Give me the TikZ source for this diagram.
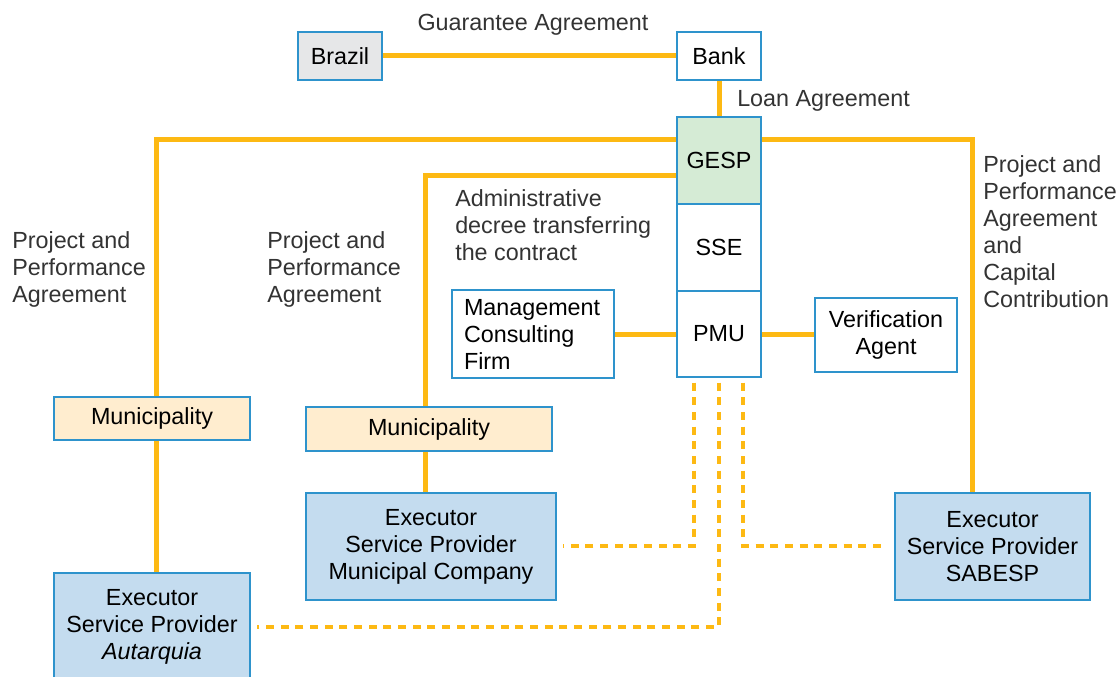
\documentclass[tikz,border=0pt]{standalone}
\usepackage{fontspec}
\setmainfont{Liberation Sans}
\definecolor{lineor}{HTML}{FDB913}
\definecolor{boxbl}{HTML}{2E93CC}
\definecolor{execfill}{HTML}{C4DCEF}
\definecolor{munifill}{HTML}{FFEDCF}
\definecolor{gespfill}{HTML}{D5EBD5}
\definecolor{brfill}{HTML}{E6E7E8}
\definecolor{labcol}{HTML}{333333}
\tikzset{
  box/.style={draw=boxbl, line width=1.1pt, fill=white, inner sep=0pt, align=center, font=\fontsize{17.5}{20.25}\selectfont},
  lab/.style={inner sep=0pt, align=left, text=labcol, font=\fontsize{17.5}{20.25}\selectfont},
  sline/.style={draw=lineor, line width=3.75pt},
  dline/.style={draw=lineor, line width=3.3pt, dash pattern=on 6pt off 5pt}
}
\begin{document}
\begin{tikzpicture}[x=0.75pt,y=-0.75pt]
\clip (0,0) rectangle (1117,677);
\fill[white] (0,0) rectangle (1117,677);
% nodes
\node[box, fill=brfill, minimum width=63pt, minimum height=36pt] (brazil) at (340,56) {Brazil};
\node[box, minimum width=63pt, minimum height=36pt] (bank) at (719,56) {Bank};
\node[box, fill=gespfill, minimum width=63pt, minimum height=65.25pt] (gesp) at (719,160.5) {GESP};
\node[box, minimum width=63pt, minimum height=65.25pt] (sse) at (719,247.5) {SSE};
\node[box, minimum width=63pt, minimum height=64.5pt] (pmu) at (719,334) {PMU};
\node[box, minimum width=121.5pt, minimum height=66pt, align=left, text width=103.5pt] (mcf) at (533,334) {Management\\Consulting\\Firm};
\node[box, minimum width=106.5pt, minimum height=55.5pt] (va) at (886,335) {Verification\\Agent};
\node[box, fill=munifill, minimum width=147pt, minimum height=32.25pt] (muni1) at (152,418.5) {Municipality};
\node[box, fill=munifill, minimum width=184.5pt, minimum height=33pt] (muni2) at (429,429) {Municipality};
\node[box, fill=execfill, minimum width=187.5pt, minimum height=80.25pt] (execmc) at (431,546.5) {Executor\\Service Provider\\Municipal Company};
\node[box, fill=execfill, minimum width=147pt, minimum height=80.25pt] (execa) at (152,626.5) {Executor\\Service Provider\\\textit{Autarquia}};
\node[box, fill=execfill, minimum width=146.25pt, minimum height=80.25pt] (execs) at (992.5,546.5) {Executor\\Service Provider\\SABESP};
% labels
\node[lab, anchor=center] (lguar) at (533,25) {Guarantee Agreement};
\node[lab, anchor=west] (lloan) at (737,101) {Loan Agreement};
\node[lab, anchor=west] (lppa1) at (12,269) {Project and\\Performance\\Agreement};
\node[lab, anchor=west] (lppa2) at (267,269) {Project and\\Performance\\Agreement};
\node[lab, anchor=west] (ladm) at (455,225) {Administrative\\decree transferring\\the contract};
\node[lab, anchor=west] (lppa3) at (983,231.5) {Project and\\Performance\\Agreement\\and\\Capital\\Contribution};
% coordinates
\coordinate (c1) at (156,140);
\coordinate (c2) at (425,176);
\coordinate (c3) at (972,140);
% solid lines
\draw[sline] (brazil.east) -- (bank.west);
\draw[sline] (bank.south) -- (gesp.north);
\draw[sline] (gesp.west |- c1) -- (c1) -- (c1 |- muni1.north);
\draw[sline] (c1 |- muni1.south) -- (c1 |- execa.north);
\draw[sline] (gesp.west |- c2) -- (c2) -- (c2 |- muni2.north);
\draw[sline] (c2 |- muni2.south) -- (c2 |- execmc.north);
\draw[sline] (gesp.east |- c3) -- (c3) -- (c3 |- execs.north);
\draw[sline] (mcf.east) -- (pmu.west);
\draw[sline] (pmu.east) -- (va.west |- pmu.east);
% dotted lines
\coordinate (d1) at (694,546);
\coordinate (d2) at (719,627);
\coordinate (d3) at (743,546);
\draw[dline] (d1 |- pmu.south) ++(0,5) -- (d1) -- ([xshift=5pt]execmc.east |- d1);
\draw[dline] (d2 |- pmu.south) ++(0,5) -- (d2) -- ([xshift=5pt]execa.east |- d2);
\draw[dline] (d3 |- pmu.south) ++(0,5) -- (d3) -- ([xshift=-6pt]execs.west |- d3);
\end{tikzpicture}
\end{document}
